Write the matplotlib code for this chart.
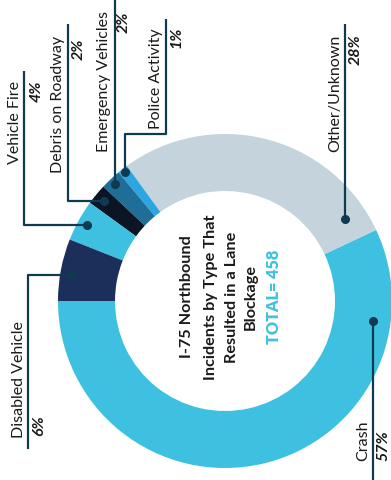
import matplotlib.pyplot as plt
import numpy as np

# Lane-blockage incidents on I-75 northbound, share by type (percent)
categories = ['Crash', 'Other/Unknown', 'Police Activity', 'Emergency Vehicles',
              'Debris on Roadway', 'Vehicle Fire', 'Disabled Vehicle']
shares = [57, 28, 1, 2, 2, 4, 6]
pct_labels = ['57%', '28%', '1%', '2%', '2%', '4%', '6%']
total = 458
colors = ['#3ec1e1', '#c4d3dc', '#2ba6e0', '#1f6e98', '#0b1526', '#3ec1e1', '#1c2e5a']

title_lines = ['I-75 Northbound', 'Incidents by Type That', 'Resulted in a Lane', 'Blockage']

line_col = '#0f3a50'
font = 'Lato'

fig = plt.figure(figsize=(3.91, 4.81), dpi=100)
ax = fig.add_axes([0, 0, 1, 1])

cx, cy = 225, 302
R, W = 167, 57

# y axis runs downward, so a clockwise pie here turns counter-clockwise on screen
wedges, _ = ax.pie(shares, colors=colors, startangle=180, counterclock=False,
                   radius=R, center=(cx, cy),
                   wedgeprops=dict(width=W, edgecolor='none', linewidth=0))
ax.set_xlim(0, 391)
ax.set_ylim(481, 0)
ax.set_aspect('equal')
ax.axis('off')

# leader layout: where on the wedge the dot sits (fraction of arc, radius),
# bend points of the leader, and where the two labels go
layout = {
    'Crash':              dict(frac=0.84, r=149, path=[(None, 481)], side='bottom',
                               name_xy=(370, 461), pct_xy=(376, 461)),
    'Other/Unknown':      dict(frac=0.09, r=145, path=[(None, 25)], side='top',
                               name_xy=(342, 35), pct_xy=(349, 34)),
    'Police Activity':    dict(frac=0.5, r=163, path=[(None, 135), (166, 135), (166, 20)],
                               side='top', name_xy=(163, 28), pct_xy=(169, 27)),
    'Emergency Vehicles': dict(frac=0.5, r=160, path=[(None, 0)], side='top',
                               name_xy=(111, 11), pct_xy=(117, 12)),
    'Debris on Roadway':  dict(frac=0.5, r=157, path=[(68, None), (68, 25)], side='top',
                               name_xy=(65, 36), pct_xy=(72, 39)),
    'Vehicle Fire':       dict(frac=0.5, r=157, path=[(24, None), (24, 72)], side='top',
                               name_xy=(22, 81), pct_xy=(30, 81)),
    'Disabled Vehicle':   dict(frac=0.56, r=155, path=[(28, None), (28, 450)], side='bottom',
                               name_xy=(26, 438), pct_xy=(32, 436)),
}

for w, name, pct in zip(wedges, categories, pct_labels):
    lay = layout[name]
    t1, t2 = w.theta1, w.theta2
    ang = np.deg2rad(t2 - lay['frac'] * (t2 - t1))
    px = cx + lay['r'] * np.cos(ang)
    py = cy + lay['r'] * np.sin(ang)

    xs, ys = [px], [py]
    for bx, by in lay['path']:
        xs.append(xs[-1] if bx is None else bx)
        ys.append(ys[-1] if by is None else by)
    ax.plot(xs, ys, color=line_col, lw=1.6, solid_capstyle='butt', zorder=3)
    ax.plot(px, py, 'o', color=line_col, ms=5.5, zorder=4)

    va = 'top' if lay['side'] == 'top' else 'bottom'
    ax.text(*lay['name_xy'], name, rotation=90, ha='right', va=va,
            fontsize=11.5, family=font, color='#1a1a1a')
    ax.text(*lay['pct_xy'], pct, rotation=90, ha='left', va=va,
            fontsize=11.5, family=font, fontweight='bold', style='italic', color='#1a1a1a')

# centre title, one line at a time
line_x = [187, 211, 232, 251]
for x, line in zip(line_x, title_lines):
    ax.text(x, 297, line, rotation=90, ha='center', va='center',
            fontsize=11.7, family=font, fontweight='bold', color='#1a1a1a')
ax.text(274, 297, f'TOTAL= {total}', rotation=90, ha='center', va='center',
        fontsize=11.7, family=font, fontweight='heavy', color='#3ec1e1')

fig.savefig('out.png', dpi=100)
